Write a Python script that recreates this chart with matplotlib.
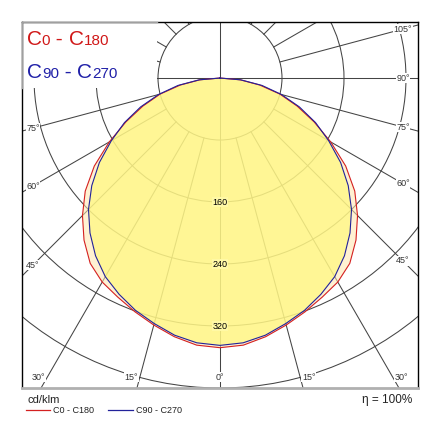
import numpy as np
import matplotlib
matplotlib.use("Agg")
import matplotlib.pyplot as plt
from matplotlib.patches import Circle, Rectangle

plt.rcParams['font.family'] = ['Liberation Sans', 'DejaVu Sans']

# luminous intensity (cd/klm) vs angle from nadir, symmetric halves
angles = [0, 5, 10, 15, 20, 25, 30, 35, 40, 45, 50, 55, 60, 65, 70, 75, 80, 85, 90]
c0_c180 = [348, 346, 339, 330, 321, 312, 304, 292, 273, 251, 227, 198, 165, 134, 106, 80, 52, 26, 0]
c90_c270 = [345, 343, 337, 328, 319, 308, 296, 280, 261, 240, 216, 190, 162, 136, 109, 82, 55, 27, 0]

rings = [80, 160, 240, 320, 400, 480]
ring_labels = [160, 240, 320]
angle_labels = [-75, -60, -45, -30, -15, 0, 15, 30, 45, 60, 75, 90, 105]

RED = '#d42020'
BLUE = '#22229a'
GRID = '#444444'

xmax, ymin, ymax = 255.5, -400.0, 72.3


def to_xy(ang, val):
    a = np.radians(ang)
    v = np.asarray(val, dtype=float)
    return v * np.sin(a), -v * np.cos(a)


def full_curve(vals):
    ang = np.concatenate([-np.array(angles[::-1]), np.array(angles[1:])])
    v = np.concatenate([np.array(vals[::-1]), np.array(vals[1:])])
    return to_xy(ang, v)


fig = plt.figure(figsize=(4.4, 4.4), dpi=100)
ax = fig.add_axes([22 / 440, 52 / 440, 396 / 440, 366 / 440])
ax.set_xlim(-xmax, xmax)
ax.set_ylim(ymin, ymax)
ax.set_xticks([])
ax.set_yticks([])

# grid rings and spokes
for r in rings:
    ax.add_patch(Circle((0, 0), r, fill=False, ec=GRID, lw=0.75, zorder=1))
for a in range(-180, 180, 15):
    r0 = 0 if a % 90 == 0 else 80
    x, y = to_xy(a, [r0, 800])
    ax.plot(x, y, color=GRID, lw=0.75, zorder=1)

# curves with fill
xr, yr = full_curve(c0_c180)
xb, yb = full_curve(c90_c270)
ax.fill(xr, yr, color='#ffe6ae', alpha=0.55, lw=0, zorder=2)
ax.fill(xb, yb, color='#fff97c', alpha=0.7, lw=0, zorder=2)
ax.plot(xr, yr, color=RED, lw=0.8, zorder=3)
ax.plot(xb, yb, color=BLUE, lw=0.8, zorder=3)

# ring values on the 0 deg axis
for v in ring_labels:
    ax.text(0, -v, str(v), fontsize=6.5, ha='center', va='center', zorder=4,
            bbox=dict(boxstyle='square,pad=0.1', fc='#fff9a6', ec='none'))

# angle labels at the frame
for a in angle_labels:
    dx, dy = np.sin(np.radians(a)), -np.cos(np.radians(a))
    ts = []
    if dx < -1e-9:
        ts.append((-xmax + 14) / dx)
    if dx > 1e-9:
        ts.append((xmax - 19.5) / dx)
    if dy < -1e-9:
        ts.append((ymin + 14) / dy)
    t = min(ts)
    px, py = t * dx, t * dy
    on_bottom = abs(py - (ymin + 14)) < 1
    if on_bottom and a != 0:
        px += 11 * np.sign(a)
    ax.text(px, py, '%d°' % abs(a), fontsize=6.5, color='#333333', ha='center',
            va='center', zorder=4,
            bbox=dict(boxstyle='square,pad=0.05', fc='white', ec='none'))

# frame
for s in ['top', 'right', 'left']:
    ax.spines[s].set_color('black')
    ax.spines[s].set_linewidth(1)
ax.spines['bottom'].set_color('#b0b0b0')
ax.spines['bottom'].set_linewidth(2)

# title block in the upper-left corner
bx1, by0 = (157 - 22) / 396, (388 - 88) / 366
ax.add_patch(Rectangle((0, by0), bx1, 1 - by0, transform=ax.transAxes,
                       fc='white', ec='none', zorder=2.4))
ax.plot([0, bx1], [1, 1], transform=ax.transAxes, color='#a0a0a0', lw=1,
        clip_on=False, zorder=3)
ax.plot([0, 0], [by0, 1], transform=ax.transAxes, color='#a0a0a0', lw=1,
        clip_on=False, zorder=3)


def chain(parts, x0, y0, color):
    prev = None
    for txt, size in parts:
        if prev is None:
            prev = ax.text(x0, y0, txt, fontsize=size, color=color, ha='left',
                           va='baseline', transform=ax.transAxes, zorder=5)
        else:
            prev = ax.annotate(txt, xy=(1, y0), xycoords=(prev, 'axes fraction'),
                               fontsize=size, color=color, ha='left',
                               va='baseline', zorder=5)


chain([('C', 15), ('0', 11), (' - ', 15), ('C', 15), ('180', 11)],
      0.012, (388 - 45) / 366, '#d01818')
chain([('C', 15), ('90', 11), (' - ', 15), ('C', 15), ('270', 11)],
      0.012, (388 - 78) / 366, '#2020a8')

# bottom legend
fig.text(28 / 440, 1 - 403 / 440, 'cd/klm', fontsize=8, color='#222222')
fig.text(412 / 440, 1 - 403 / 440, 'η = 100%', fontsize=8.5, color='#222222', ha='right')
fig.add_artist(plt.Line2D([26 / 440, 50 / 440], [1 - 410 / 440] * 2, color=RED, lw=0.9))
fig.text(53 / 440, 1 - 413 / 440, 'C0 - C180', fontsize=6.5, color='#222222')
fig.add_artist(plt.Line2D([108 / 440, 133 / 440], [1 - 410 / 440] * 2, color=BLUE, lw=0.9))
fig.text(136 / 440, 1 - 413 / 440, 'C90 - C270', fontsize=6.5, color='#222222')

fig.savefig('out.png', dpi=100)
